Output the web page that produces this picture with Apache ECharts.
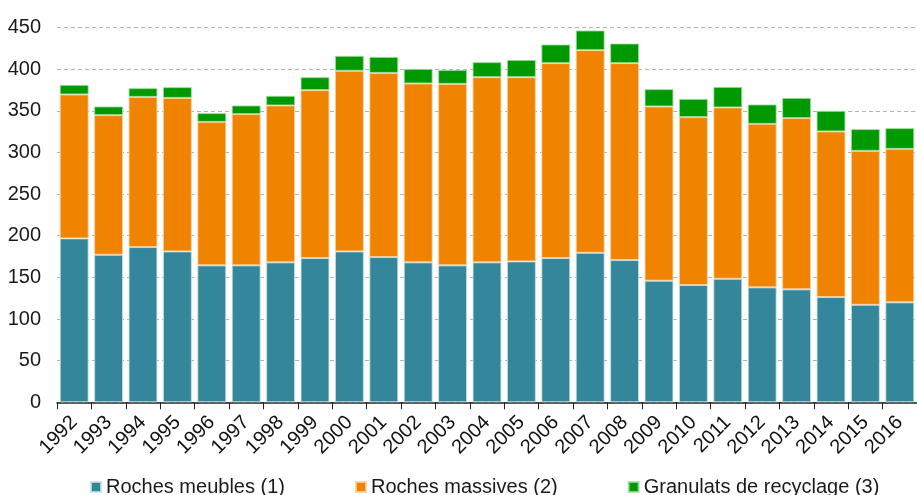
<!DOCTYPE html>
<html>
<head>
<meta charset="utf-8">
<script src="https://cdn.jsdelivr.net/npm/echarts@6/dist/echarts.min.js"></script>
<style>
html,body{margin:0;padding:0;background:#fff;}
#chart{width:917px;height:495px;}
</style>
</head>
<body>
<div id="chart"></div>
<script>
var years = ['1992','1993','1994','1995','1996','1997','1998','1999','2000','2001','2002','2003','2004','2005','2006','2007','2008','2009','2010','2011','2012','2013','2014','2015','2016'];
var rochesMeubles = [196.8,177.1,186.4,181.2,164.4,164.4,168,173.2,181.2,174.4,168,164.4,168,169.2,173.2,179.5,170.8,146,140.8,148.3,138,135.6,126.4,117.1,120];
var rochesMassives = [172.8,167.7,180.3,184.3,172.3,181.6,188.4,201.6,216.8,221.1,214.8,217.9,222.4,221.2,234,243.3,236.4,209.2,201.6,205.7,196.3,205.6,198.8,184.8,184.3];
var granulatsRecyclage = [11.5,10.4,10.5,12.9,10.5,10.4,11.6,15.6,18,19.2,17.5,16.8,18,20.7,22.4,23.6,23.6,20.8,21.9,24.7,23.3,24.3,24.7,26.1,24.9];
var seriesNames = ['Roches meubles (1)','Roches massives (2)','Granulats de recyclage (3)'];

var font = '"Liberation Sans", Arial, sans-serif';
var chart = echarts.init(document.getElementById('chart'));
function bar(name, data, color, border) {
  return {
    name: name, type: 'bar', stack: 'total', data: data,
    barCategoryGap: '16%',
    itemStyle: { color: color, borderColor: border, borderWidth: 1 },
    emphasis: { disabled: true }
  };
}
chart.setOption({
  animation: false,
  textStyle: { fontFamily: font },
  grid: { left: 57, right: -8, top: 27.5, bottom: 92.7, containLabel: false },
  legend: {
    left: 85, top: 472,
    itemWidth: 10, itemHeight: 10, itemGap: 70,
    icon: 'rect',
    textStyle: { fontFamily: font, fontSize: 20, color: '#1a1a1a' },
    data: seriesNames
  },
  xAxis: {
    type: 'category', data: years,
    axisLine: { lineStyle: { color: '#222', width: 1.5 } },
    axisTick: { show: true, length: 7, alignWithLabel: false, lineStyle: { color: '#222' } },
    axisLabel: { rotate: 45, fontSize: 20, color: '#111', margin: 17, interval: 0, fontFamily: font }
  },
  yAxis: {
    type: 'value', min: 0, max: 450, interval: 50,
    axisLine: { show: false }, axisTick: { show: false },
    axisLabel: { fontSize: 20, color: '#1a1a1a', margin: 16, fontFamily: font },
    splitLine: { lineStyle: { color: '#b3b3b3', type: [4, 3], width: 1 } }
  },
  series: [
    bar(seriesNames[0], rochesMeubles, '#34879b', 'rgba(200,225,230,0.8)'),
    bar(seriesNames[1], rochesMassives, '#f08300', 'rgba(250,210,160,0.8)'),
    bar(seriesNames[2], granulatsRecyclage, '#009900', 'rgba(160,220,160,0.8)')
  ]
});
</script>
</body>
</html>
